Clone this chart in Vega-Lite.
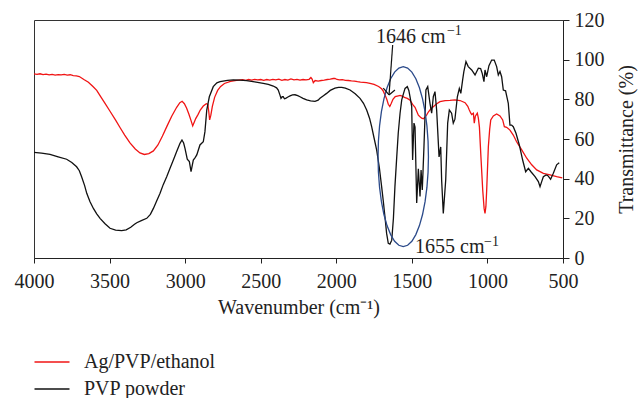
{
  "$schema": "https://vega.github.io/schema/vega-lite/v6.json",
  "width": 529,
  "height": 238,
  "autosize": {"type": "none"},
  "padding": {"left": 34, "top": 20, "right": 77, "bottom": 140},
  "background": "white",
  "config": {
    "font": "Liberation Serif",
    "view": {"stroke": "#333333", "strokeWidth": 1},
    "axis": {"grid": false, "domainColor": "#222222", "tickColor": "#222222", "labelColor": "#222222", "titleColor": "#222222", "labelFont": "Liberation Serif", "titleFont": "Liberation Serif", "titleFontWeight": "normal", "labelOverlap": false},
    "axisY": {"labelOverlap": false},
    "legend": {"labelFont": "Liberation Serif"}
  },
  "datasets": {
    "spectra": [
      {"wn":4000,"T":92.8,"series":"Ag/PVP/ethanol"},{"wn":3980,"T":92.6,"series":"Ag/PVP/ethanol"},{"wn":3960,"T":92.9,"series":"Ag/PVP/ethanol"},{"wn":3940,"T":92.5,"series":"Ag/PVP/ethanol"},{"wn":3920,"T":92.7,"series":"Ag/PVP/ethanol"},{"wn":3900,"T":92.3,"series":"Ag/PVP/ethanol"},{"wn":3880,"T":92.6,"series":"Ag/PVP/ethanol"},{"wn":3860,"T":92.2,"series":"Ag/PVP/ethanol"},{"wn":3840,"T":92.5,"series":"Ag/PVP/ethanol"},{"wn":3820,"T":92.3,"series":"Ag/PVP/ethanol"},{"wn":3800,"T":92.6,"series":"Ag/PVP/ethanol"},{"wn":3780,"T":92.2,"series":"Ag/PVP/ethanol"},{"wn":3760,"T":92.4,"series":"Ag/PVP/ethanol"},{"wn":3740,"T":92.0,"series":"Ag/PVP/ethanol"},{"wn":3720,"T":91.8,"series":"Ag/PVP/ethanol"},{"wn":3700,"T":91.5,"series":"Ag/PVP/ethanol"},{"wn":3670,"T":90.0,"series":"Ag/PVP/ethanol"},{"wn":3640,"T":88.6,"series":"Ag/PVP/ethanol"},{"wn":3610,"T":86.5,"series":"Ag/PVP/ethanol"},{"wn":3585,"T":84.5,"series":"Ag/PVP/ethanol"},{"wn":3560,"T":81.5,"series":"Ag/PVP/ethanol"},{"wn":3530,"T":78.0,"series":"Ag/PVP/ethanol"},{"wn":3497,"T":74.0,"series":"Ag/PVP/ethanol"},{"wn":3460,"T":69.5,"series":"Ag/PVP/ethanol"},{"wn":3431,"T":65.8,"series":"Ag/PVP/ethanol"},{"wn":3400,"T":62.0,"series":"Ag/PVP/ethanol"},{"wn":3365,"T":58.0,"series":"Ag/PVP/ethanol"},{"wn":3330,"T":55.0,"series":"Ag/PVP/ethanol"},{"wn":3299,"T":53.0,"series":"Ag/PVP/ethanol"},{"wn":3270,"T":52.2,"series":"Ag/PVP/ethanol"},{"wn":3240,"T":52.6,"series":"Ag/PVP/ethanol"},{"wn":3210,"T":54.0,"series":"Ag/PVP/ethanol"},{"wn":3180,"T":57.0,"series":"Ag/PVP/ethanol"},{"wn":3150,"T":61.5,"series":"Ag/PVP/ethanol"},{"wn":3120,"T":66.5,"series":"Ag/PVP/ethanol"},{"wn":3089,"T":71.5,"series":"Ag/PVP/ethanol"},{"wn":3056,"T":76.0,"series":"Ag/PVP/ethanol"},{"wn":3035,"T":78.3,"series":"Ag/PVP/ethanol"},{"wn":3020,"T":79.0,"series":"Ag/PVP/ethanol"},{"wn":3005,"T":77.8,"series":"Ag/PVP/ethanol"},{"wn":2990,"T":75.5,"series":"Ag/PVP/ethanol"},{"wn":2975,"T":72.5,"series":"Ag/PVP/ethanol"},{"wn":2962,"T":69.5,"series":"Ag/PVP/ethanol"},{"wn":2950,"T":66.6,"series":"Ag/PVP/ethanol"},{"wn":2940,"T":68.5,"series":"Ag/PVP/ethanol"},{"wn":2930,"T":70.3,"series":"Ag/PVP/ethanol"},{"wn":2915,"T":72.3,"series":"Ag/PVP/ethanol"},{"wn":2900,"T":74.6,"series":"Ag/PVP/ethanol"},{"wn":2880,"T":76.6,"series":"Ag/PVP/ethanol"},{"wn":2860,"T":77.8,"series":"Ag/PVP/ethanol"},{"wn":2850,"T":77.5,"series":"Ag/PVP/ethanol"},{"wn":2844,"T":74.0,"series":"Ag/PVP/ethanol"},{"wn":2838,"T":69.6,"series":"Ag/PVP/ethanol"},{"wn":2830,"T":72.0,"series":"Ag/PVP/ethanol"},{"wn":2820,"T":76.5,"series":"Ag/PVP/ethanol"},{"wn":2805,"T":81.0,"series":"Ag/PVP/ethanol"},{"wn":2785,"T":84.5,"series":"Ag/PVP/ethanol"},{"wn":2765,"T":86.5,"series":"Ag/PVP/ethanol"},{"wn":2740,"T":88.0,"series":"Ag/PVP/ethanol"},{"wn":2700,"T":89.0,"series":"Ag/PVP/ethanol"},{"wn":2660,"T":89.6,"series":"Ag/PVP/ethanol"},{"wn":2620,"T":89.9,"series":"Ag/PVP/ethanol"},{"wn":2600,"T":89.6,"series":"Ag/PVP/ethanol"},{"wn":2580,"T":90.0,"series":"Ag/PVP/ethanol"},{"wn":2560,"T":89.7,"series":"Ag/PVP/ethanol"},{"wn":2540,"T":90.1,"series":"Ag/PVP/ethanol"},{"wn":2520,"T":89.8,"series":"Ag/PVP/ethanol"},{"wn":2500,"T":90.0,"series":"Ag/PVP/ethanol"},{"wn":2480,"T":89.6,"series":"Ag/PVP/ethanol"},{"wn":2460,"T":90.0,"series":"Ag/PVP/ethanol"},{"wn":2440,"T":89.7,"series":"Ag/PVP/ethanol"},{"wn":2420,"T":90.1,"series":"Ag/PVP/ethanol"},{"wn":2400,"T":89.8,"series":"Ag/PVP/ethanol"},{"wn":2380,"T":90.2,"series":"Ag/PVP/ethanol"},{"wn":2360,"T":89.6,"series":"Ag/PVP/ethanol"},{"wn":2340,"T":90.0,"series":"Ag/PVP/ethanol"},{"wn":2320,"T":89.7,"series":"Ag/PVP/ethanol"},{"wn":2300,"T":90.3,"series":"Ag/PVP/ethanol"},{"wn":2280,"T":89.8,"series":"Ag/PVP/ethanol"},{"wn":2260,"T":90.1,"series":"Ag/PVP/ethanol"},{"wn":2240,"T":89.7,"series":"Ag/PVP/ethanol"},{"wn":2220,"T":90.0,"series":"Ag/PVP/ethanol"},{"wn":2200,"T":89.8,"series":"Ag/PVP/ethanol"},{"wn":2180,"T":90.1,"series":"Ag/PVP/ethanol"},{"wn":2168,"T":91.0,"series":"Ag/PVP/ethanol"},{"wn":2160,"T":90.2,"series":"Ag/PVP/ethanol"},{"wn":2152,"T":88.4,"series":"Ag/PVP/ethanol"},{"wn":2140,"T":89.5,"series":"Ag/PVP/ethanol"},{"wn":2120,"T":89.2,"series":"Ag/PVP/ethanol"},{"wn":2100,"T":89.5,"series":"Ag/PVP/ethanol"},{"wn":2080,"T":89.7,"series":"Ag/PVP/ethanol"},{"wn":2060,"T":90.0,"series":"Ag/PVP/ethanol"},{"wn":2040,"T":90.2,"series":"Ag/PVP/ethanol"},{"wn":2020,"T":90.5,"series":"Ag/PVP/ethanol"},{"wn":2009,"T":90.6,"series":"Ag/PVP/ethanol"},{"wn":1995,"T":90.0,"series":"Ag/PVP/ethanol"},{"wn":1980,"T":89.8,"series":"Ag/PVP/ethanol"},{"wn":1960,"T":89.9,"series":"Ag/PVP/ethanol"},{"wn":1940,"T":89.6,"series":"Ag/PVP/ethanol"},{"wn":1920,"T":89.5,"series":"Ag/PVP/ethanol"},{"wn":1900,"T":89.3,"series":"Ag/PVP/ethanol"},{"wn":1880,"T":89.2,"series":"Ag/PVP/ethanol"},{"wn":1860,"T":88.9,"series":"Ag/PVP/ethanol"},{"wn":1840,"T":88.7,"series":"Ag/PVP/ethanol"},{"wn":1820,"T":88.6,"series":"Ag/PVP/ethanol"},{"wn":1800,"T":88.4,"series":"Ag/PVP/ethanol"},{"wn":1777,"T":88.0,"series":"Ag/PVP/ethanol"},{"wn":1750,"T":87.5,"series":"Ag/PVP/ethanol"},{"wn":1720,"T":86.5,"series":"Ag/PVP/ethanol"},{"wn":1700,"T":85.3,"series":"Ag/PVP/ethanol"},{"wn":1688,"T":84.0,"series":"Ag/PVP/ethanol"},{"wn":1677,"T":82.0,"series":"Ag/PVP/ethanol"},{"wn":1666,"T":80.0,"series":"Ag/PVP/ethanol"},{"wn":1656,"T":77.5,"series":"Ag/PVP/ethanol"},{"wn":1646,"T":76.4,"series":"Ag/PVP/ethanol"},{"wn":1636,"T":78.0,"series":"Ag/PVP/ethanol"},{"wn":1625,"T":80.0,"series":"Ag/PVP/ethanol"},{"wn":1610,"T":81.4,"series":"Ag/PVP/ethanol"},{"wn":1590,"T":81.8,"series":"Ag/PVP/ethanol"},{"wn":1578,"T":82.0,"series":"Ag/PVP/ethanol"},{"wn":1560,"T":81.5,"series":"Ag/PVP/ethanol"},{"wn":1545,"T":80.8,"series":"Ag/PVP/ethanol"},{"wn":1530,"T":80.5,"series":"Ag/PVP/ethanol"},{"wn":1512,"T":79.6,"series":"Ag/PVP/ethanol"},{"wn":1495,"T":77.5,"series":"Ag/PVP/ethanol"},{"wn":1479,"T":76.0,"series":"Ag/PVP/ethanol"},{"wn":1468,"T":74.0,"series":"Ag/PVP/ethanol"},{"wn":1457,"T":72.0,"series":"Ag/PVP/ethanol"},{"wn":1446,"T":71.2,"series":"Ag/PVP/ethanol"},{"wn":1435,"T":70.5,"series":"Ag/PVP/ethanol"},{"wn":1424,"T":70.2,"series":"Ag/PVP/ethanol"},{"wn":1413,"T":71.0,"series":"Ag/PVP/ethanol"},{"wn":1402,"T":72.2,"series":"Ag/PVP/ethanol"},{"wn":1391,"T":73.6,"series":"Ag/PVP/ethanol"},{"wn":1375,"T":75.2,"series":"Ag/PVP/ethanol"},{"wn":1358,"T":76.3,"series":"Ag/PVP/ethanol"},{"wn":1340,"T":77.5,"series":"Ag/PVP/ethanol"},{"wn":1314,"T":78.8,"series":"Ag/PVP/ethanol"},{"wn":1280,"T":79.4,"series":"Ag/PVP/ethanol"},{"wn":1248,"T":79.5,"series":"Ag/PVP/ethanol"},{"wn":1215,"T":79.7,"series":"Ag/PVP/ethanol"},{"wn":1181,"T":79.4,"series":"Ag/PVP/ethanol"},{"wn":1148,"T":78.3,"series":"Ag/PVP/ethanol"},{"wn":1130,"T":76.5,"series":"Ag/PVP/ethanol"},{"wn":1120,"T":74.6,"series":"Ag/PVP/ethanol"},{"wn":1110,"T":73.0,"series":"Ag/PVP/ethanol"},{"wn":1104,"T":72.3,"series":"Ag/PVP/ethanol"},{"wn":1093,"T":73.0,"series":"Ag/PVP/ethanol"},{"wn":1087,"T":68.0,"series":"Ag/PVP/ethanol"},{"wn":1080,"T":71.5,"series":"Ag/PVP/ethanol"},{"wn":1067,"T":73.0,"series":"Ag/PVP/ethanol"},{"wn":1060,"T":70.5,"series":"Ag/PVP/ethanol"},{"wn":1053,"T":66.0,"series":"Ag/PVP/ethanol"},{"wn":1043,"T":51.0,"series":"Ag/PVP/ethanol"},{"wn":1031,"T":34.0,"series":"Ag/PVP/ethanol"},{"wn":1022,"T":25.0,"series":"Ag/PVP/ethanol"},{"wn":1016,"T":22.5,"series":"Ag/PVP/ethanol"},{"wn":1010,"T":26.0,"series":"Ag/PVP/ethanol"},{"wn":1005,"T":34.0,"series":"Ag/PVP/ethanol"},{"wn":994,"T":56.0,"series":"Ag/PVP/ethanol"},{"wn":985,"T":65.0,"series":"Ag/PVP/ethanol"},{"wn":978,"T":69.6,"series":"Ag/PVP/ethanol"},{"wn":961,"T":71.6,"series":"Ag/PVP/ethanol"},{"wn":939,"T":72.6,"series":"Ag/PVP/ethanol"},{"wn":917,"T":71.6,"series":"Ag/PVP/ethanol"},{"wn":899,"T":69.6,"series":"Ag/PVP/ethanol"},{"wn":888,"T":66.2,"series":"Ag/PVP/ethanol"},{"wn":873,"T":65.9,"series":"Ag/PVP/ethanol"},{"wn":851,"T":64.5,"series":"Ag/PVP/ethanol"},{"wn":829,"T":62.0,"series":"Ag/PVP/ethanol"},{"wn":807,"T":58.6,"series":"Ag/PVP/ethanol"},{"wn":773,"T":54.5,"series":"Ag/PVP/ethanol"},{"wn":740,"T":50.3,"series":"Ag/PVP/ethanol"},{"wn":707,"T":47.0,"series":"Ag/PVP/ethanol"},{"wn":674,"T":44.4,"series":"Ag/PVP/ethanol"},{"wn":630,"T":42.7,"series":"Ag/PVP/ethanol"},{"wn":586,"T":41.9,"series":"Ag/PVP/ethanol"},{"wn":542,"T":41.0,"series":"Ag/PVP/ethanol"},{"wn":520,"T":40.7,"series":"Ag/PVP/ethanol"},{"wn":505,"T":40.4,"series":"Ag/PVP/ethanol"},
      {"wn":4000,"T":53.3,"series":"PVP powder"},{"wn":3950,"T":52.9,"series":"PVP powder"},{"wn":3894,"T":52.2,"series":"PVP powder"},{"wn":3840,"T":51.0,"series":"PVP powder"},{"wn":3784,"T":49.8,"series":"PVP powder"},{"wn":3750,"T":48.2,"series":"PVP powder"},{"wn":3718,"T":46.0,"series":"PVP powder"},{"wn":3700,"T":44.0,"series":"PVP powder"},{"wn":3685,"T":41.0,"series":"PVP powder"},{"wn":3665,"T":36.5,"series":"PVP powder"},{"wn":3651,"T":32.6,"series":"PVP powder"},{"wn":3630,"T":28.5,"series":"PVP powder"},{"wn":3607,"T":25.0,"series":"PVP powder"},{"wn":3585,"T":22.3,"series":"PVP powder"},{"wn":3563,"T":20.0,"series":"PVP powder"},{"wn":3530,"T":17.3,"series":"PVP powder"},{"wn":3497,"T":15.0,"series":"PVP powder"},{"wn":3460,"T":14.1,"series":"PVP powder"},{"wn":3420,"T":13.8,"series":"PVP powder"},{"wn":3390,"T":14.2,"series":"PVP powder"},{"wn":3360,"T":15.5,"series":"PVP powder"},{"wn":3335,"T":17.0,"series":"PVP powder"},{"wn":3320,"T":17.8,"series":"PVP powder"},{"wn":3290,"T":18.8,"series":"PVP powder"},{"wn":3254,"T":20.0,"series":"PVP powder"},{"wn":3230,"T":22.0,"series":"PVP powder"},{"wn":3210,"T":25.0,"series":"PVP powder"},{"wn":3190,"T":28.5,"series":"PVP powder"},{"wn":3166,"T":32.6,"series":"PVP powder"},{"wn":3145,"T":37.0,"series":"PVP powder"},{"wn":3122,"T":41.0,"series":"PVP powder"},{"wn":3100,"T":45.3,"series":"PVP powder"},{"wn":3078,"T":49.4,"series":"PVP powder"},{"wn":3056,"T":53.7,"series":"PVP powder"},{"wn":3034,"T":57.8,"series":"PVP powder"},{"wn":3021,"T":59.5,"series":"PVP powder"},{"wn":3010,"T":58.0,"series":"PVP powder"},{"wn":3001,"T":55.3,"series":"PVP powder"},{"wn":2986,"T":49.8,"series":"PVP powder"},{"wn":2972,"T":48.6,"series":"PVP powder"},{"wn":2961,"T":43.5,"series":"PVP powder"},{"wn":2946,"T":49.4,"series":"PVP powder"},{"wn":2935,"T":50.5,"series":"PVP powder"},{"wn":2923,"T":52.0,"series":"PVP powder"},{"wn":2902,"T":57.0,"series":"PVP powder"},{"wn":2880,"T":58.6,"series":"PVP powder"},{"wn":2869,"T":63.7,"series":"PVP powder"},{"wn":2857,"T":74.6,"series":"PVP powder"},{"wn":2840,"T":81.3,"series":"PVP powder"},{"wn":2814,"T":86.4,"series":"PVP powder"},{"wn":2790,"T":88.3,"series":"PVP powder"},{"wn":2769,"T":88.9,"series":"PVP powder"},{"wn":2720,"T":89.6,"series":"PVP powder"},{"wn":2681,"T":89.8,"series":"PVP powder"},{"wn":2640,"T":89.7,"series":"PVP powder"},{"wn":2593,"T":89.4,"series":"PVP powder"},{"wn":2540,"T":88.8,"series":"PVP powder"},{"wn":2483,"T":88.0,"series":"PVP powder"},{"wn":2450,"T":87.5,"series":"PVP powder"},{"wn":2417,"T":86.7,"series":"PVP powder"},{"wn":2395,"T":85.8,"series":"PVP powder"},{"wn":2384,"T":84.7,"series":"PVP powder"},{"wn":2372,"T":82.0,"series":"PVP powder"},{"wn":2366,"T":80.5,"series":"PVP powder"},{"wn":2358,"T":81.3,"series":"PVP powder"},{"wn":2351,"T":81.3,"series":"PVP powder"},{"wn":2343,"T":80.3,"series":"PVP powder"},{"wn":2335,"T":80.5,"series":"PVP powder"},{"wn":2320,"T":81.2,"series":"PVP powder"},{"wn":2306,"T":81.7,"series":"PVP powder"},{"wn":2290,"T":82.2,"series":"PVP powder"},{"wn":2273,"T":82.3,"series":"PVP powder"},{"wn":2255,"T":81.9,"series":"PVP powder"},{"wn":2240,"T":81.3,"series":"PVP powder"},{"wn":2220,"T":80.5,"series":"PVP powder"},{"wn":2196,"T":79.7,"series":"PVP powder"},{"wn":2170,"T":79.2,"series":"PVP powder"},{"wn":2141,"T":79.0,"series":"PVP powder"},{"wn":2120,"T":79.6,"series":"PVP powder"},{"wn":2108,"T":80.5,"series":"PVP powder"},{"wn":2085,"T":81.8,"series":"PVP powder"},{"wn":2064,"T":83.0,"series":"PVP powder"},{"wn":2040,"T":84.5,"series":"PVP powder"},{"wn":2009,"T":85.6,"series":"PVP powder"},{"wn":1985,"T":86.0,"series":"PVP powder"},{"wn":1964,"T":86.0,"series":"PVP powder"},{"wn":1940,"T":85.7,"series":"PVP powder"},{"wn":1909,"T":84.7,"series":"PVP powder"},{"wn":1875,"T":82.8,"series":"PVP powder"},{"wn":1843,"T":80.5,"series":"PVP powder"},{"wn":1820,"T":78.0,"series":"PVP powder"},{"wn":1799,"T":74.6,"series":"PVP powder"},{"wn":1780,"T":70.5,"series":"PVP powder"},{"wn":1766,"T":66.2,"series":"PVP powder"},{"wn":1750,"T":60.5,"series":"PVP powder"},{"wn":1733,"T":54.5,"series":"PVP powder"},{"wn":1715,"T":45.5,"series":"PVP powder"},{"wn":1700,"T":36.0,"series":"PVP powder"},{"wn":1688,"T":28.0,"series":"PVP powder"},{"wn":1678,"T":20.8,"series":"PVP powder"},{"wn":1667,"T":12.4,"series":"PVP powder"},{"wn":1656,"T":7.4,"series":"PVP powder"},{"wn":1645,"T":7.0,"series":"PVP powder"},{"wn":1633,"T":9.0,"series":"PVP powder"},{"wn":1622,"T":20.0,"series":"PVP powder"},{"wn":1612,"T":36.0,"series":"PVP powder"},{"wn":1600,"T":51.0,"series":"PVP powder"},{"wn":1590,"T":63.0,"series":"PVP powder"},{"wn":1578,"T":73.0,"series":"PVP powder"},{"wn":1567,"T":79.7,"series":"PVP powder"},{"wn":1555,"T":83.0,"series":"PVP powder"},{"wn":1545,"T":85.5,"series":"PVP powder"},{"wn":1530,"T":86.4,"series":"PVP powder"},{"wn":1520,"T":84.5,"series":"PVP powder"},{"wn":1512,"T":81.3,"series":"PVP powder"},{"wn":1501,"T":76.3,"series":"PVP powder"},{"wn":1495,"T":49.4,"series":"PVP powder"},{"wn":1486,"T":68.0,"series":"PVP powder"},{"wn":1479,"T":66.0,"series":"PVP powder"},{"wn":1468,"T":27.7,"series":"PVP powder"},{"wn":1457,"T":45.0,"series":"PVP powder"},{"wn":1446,"T":31.0,"series":"PVP powder"},{"wn":1439,"T":44.4,"series":"PVP powder"},{"wn":1431,"T":34.3,"series":"PVP powder"},{"wn":1420,"T":56.0,"series":"PVP powder"},{"wn":1407,"T":84.7,"series":"PVP powder"},{"wn":1395,"T":86.4,"series":"PVP powder"},{"wn":1380,"T":78.0,"series":"PVP powder"},{"wn":1369,"T":73.0,"series":"PVP powder"},{"wn":1358,"T":81.3,"series":"PVP powder"},{"wn":1347,"T":83.9,"series":"PVP powder"},{"wn":1336,"T":74.6,"series":"PVP powder"},{"wn":1320,"T":51.0,"series":"PVP powder"},{"wn":1309,"T":56.0,"series":"PVP powder"},{"wn":1303,"T":39.3,"series":"PVP powder"},{"wn":1292,"T":22.5,"series":"PVP powder"},{"wn":1276,"T":39.3,"series":"PVP powder"},{"wn":1263,"T":68.0,"series":"PVP powder"},{"wn":1252,"T":74.6,"series":"PVP powder"},{"wn":1237,"T":73.0,"series":"PVP powder"},{"wn":1226,"T":68.0,"series":"PVP powder"},{"wn":1215,"T":70.0,"series":"PVP powder"},{"wn":1199,"T":81.3,"series":"PVP powder"},{"wn":1186,"T":85.5,"series":"PVP powder"},{"wn":1176,"T":83.0,"series":"PVP powder"},{"wn":1164,"T":89.8,"series":"PVP powder"},{"wn":1156,"T":94.0,"series":"PVP powder"},{"wn":1142,"T":99.0,"series":"PVP powder"},{"wn":1127,"T":96.5,"series":"PVP powder"},{"wn":1104,"T":94.8,"series":"PVP powder"},{"wn":1082,"T":92.3,"series":"PVP powder"},{"wn":1060,"T":95.7,"series":"PVP powder"},{"wn":1045,"T":95.5,"series":"PVP powder"},{"wn":1034,"T":93.0,"series":"PVP powder"},{"wn":1023,"T":88.9,"series":"PVP powder"},{"wn":1016,"T":94.8,"series":"PVP powder"},{"wn":1005,"T":91.4,"series":"PVP powder"},{"wn":990,"T":97.0,"series":"PVP powder"},{"wn":972,"T":99.8,"series":"PVP powder"},{"wn":955,"T":99.8,"series":"PVP powder"},{"wn":939,"T":96.5,"series":"PVP powder"},{"wn":928,"T":92.3,"series":"PVP powder"},{"wn":917,"T":94.0,"series":"PVP powder"},{"wn":906,"T":91.4,"series":"PVP powder"},{"wn":895,"T":84.7,"series":"PVP powder"},{"wn":880,"T":84.3,"series":"PVP powder"},{"wn":862,"T":78.0,"series":"PVP powder"},{"wn":851,"T":67.0,"series":"PVP powder"},{"wn":840,"T":67.0,"series":"PVP powder"},{"wn":829,"T":66.2,"series":"PVP powder"},{"wn":811,"T":62.9,"series":"PVP powder"},{"wn":789,"T":57.0,"series":"PVP powder"},{"wn":767,"T":49.4,"series":"PVP powder"},{"wn":747,"T":43.5,"series":"PVP powder"},{"wn":729,"T":45.2,"series":"PVP powder"},{"wn":712,"T":43.5,"series":"PVP powder"},{"wn":685,"T":41.0,"series":"PVP powder"},{"wn":663,"T":38.5,"series":"PVP powder"},{"wn":652,"T":36.0,"series":"PVP powder"},{"wn":641,"T":38.5,"series":"PVP powder"},{"wn":630,"T":41.0,"series":"PVP powder"},{"wn":612,"T":41.9,"series":"PVP powder"},{"wn":600,"T":41.5,"series":"PVP powder"},{"wn":582,"T":39.7,"series":"PVP powder"},{"wn":564,"T":42.7,"series":"PVP powder"},{"wn":542,"T":47.0,"series":"PVP powder"},{"wn":525,"T":48.0,"series":"PVP powder"}
    ],
    "ellipse": [{"wn": 1557, "T": 51.1}],
    "arrow": [
      {"wn": 1627, "T": 107.4, "wn2": 1651, "T2": 82.2},
      {"wn": 1689, "T": 85.6, "wn2": 1651, "T2": 82.2},
      {"wn": 1612, "T": 84.7, "wn2": 1651, "T2": 82.2}
    ],
    "labels": [
      {"wn": 1737, "T": 108.4, "label": "1646 cm"},
      {"wn": 1479, "T": 2.5, "label": "1655 cm"}
    ],
    "sups": [
      {"wn": 1268, "T": 112.2, "label": "−1"},
      {"wn": 1022, "T": 6.3, "label": "−1"}
    ]
  },
  "encoding": {
    "x": {"field": "wn", "type": "quantitative", "scale": {"domain": [500, 4000], "reverse": true, "nice": false, "zero": false},
      "axis": {"values": [4000, 3500, 3000, 2500, 2000, 1500, 1000, 500], "format": "d", "title": "Wavenumber (cm⁻¹)", "labelFontSize": 20, "titleFontSize": 20, "tickSize": 5, "labelPadding": 8, "titlePadding": 6, "labelFlush": false, "labelOverlap": false}},
    "y": {"field": "T", "type": "quantitative", "scale": {"domain": [0, 120], "nice": false},
      "axis": {"orient": "right", "values": [0, 20, 40, 60, 80, 100, 120], "format": "d", "title": "Transmittance (%)", "titleAngle": 270, "labelFontSize": 20, "titleFontSize": 20, "tickSize": 6, "labelPadding": 5, "titlePadding": 32, "labelOverlap": false, "labelFlush": false}}
  },
  "layer": [
    {
      "data": {"name": "spectra"},
      "mark": {"type": "line", "strokeWidth": 1.3},
      "encoding": {
        "color": {"field": "series", "type": "nominal",
          "scale": {"domain": ["Ag/PVP/ethanol", "PVP powder"], "range": ["#f01414", "#111111"]},
          "legend": {"orient": "none", "legendX": 8, "legendY": 332, "title": null, "padding": 0, "labelFontSize": 20, "labelOffset": 22, "symbolType": "M-2,0L2,0", "symbolSize": 306, "symbolStrokeWidth": 1.5, "rowPadding": 7, "labelColor": "#222222"}}
      }
    },
    {
      "data": {"name": "ellipse"},
      "mark": {"type": "point", "shape": "M0.28,0L0.2757,0.1736L0.2631,0.342L0.2425,0.5L0.2145,0.6428L0.18,0.766L0.14,0.866L0.0958,0.9397L0.0486,0.9848L0,1L-0.0486,0.9848L-0.0958,0.9397L-0.14,0.866L-0.18,0.766L-0.2145,0.6428L-0.2425,0.5L-0.2631,0.342L-0.2757,0.1736L-0.28,0L-0.2757,-0.1736L-0.2631,-0.342L-0.2425,-0.5L-0.2145,-0.6428L-0.18,-0.766L-0.14,-0.866L-0.0958,-0.9397L-0.0486,-0.9848L0,-1L0.0486,-0.9848L0.0958,-0.9397L0.14,-0.866L0.18,-0.766L0.2145,-0.6428L0.2425,-0.5L0.2631,-0.342L0.2757,-0.1736Z", "size": 32400, "filled": false, "stroke": "#2b4a8a", "strokeWidth": 1.3, "opacity": 1},
      "encoding": {}
    },
    {
      "data": {"name": "arrow"},
      "mark": {"type": "rule", "color": "#111111", "strokeWidth": 1.2},
      "encoding": {
        "x2": {"field": "wn2"},
        "y2": {"field": "T2"}
      }
    },
    {
      "data": {"name": "labels"},
      "mark": {"type": "text", "align": "left", "baseline": "alphabetic", "fontSize": 20, "color": "#222222"},
      "encoding": {
        "text": {"field": "label"}
      }
    },
    {
      "data": {"name": "sups"},
      "mark": {"type": "text", "align": "left", "baseline": "alphabetic", "fontSize": 14, "color": "#222222"},
      "encoding": {
        "text": {"field": "label"}
      }
    }
  ]
}
